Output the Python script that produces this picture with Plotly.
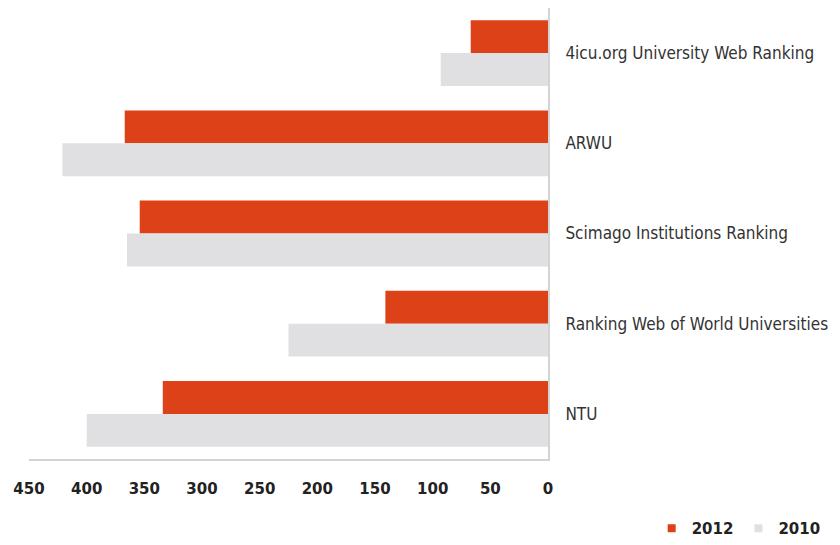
import plotly.graph_objects as go

categories = ["4icu.org University Web Ranking", "ARWU", "Scimago Institutions Ranking",
              "Ranking Web of World Universities", "NTU"]
values_2012 = [67, 367, 354, 141, 334]
values_2010 = [93, 421, 365, 225, 400]
x_ticks = [450, 400, 350, 300, 250, 200, 150, 100, 50, 0]

RED = "#dc4118"
GRAY = "#e0e0e2"

fig = go.Figure()
fig.add_trace(go.Bar(y=categories, x=values_2012, orientation="h", name="2012",
                     marker=dict(color=RED, line=dict(width=0)), showlegend=False))
fig.add_trace(go.Bar(y=categories, x=values_2010, orientation="h", name="2010",
                     marker=dict(color=GRAY, line=dict(width=0)), showlegend=False))
# legend entries with small square markers
fig.add_trace(go.Scatter(x=[None], y=[None], mode="markers", name="2012",
                         marker=dict(symbol="square", size=8, color=RED)))
fig.add_trace(go.Scatter(x=[None], y=[None], mode="markers", name="2010",
                         marker=dict(symbol="square", size=8, color=GRAY)))

fig.update_layout(
    width=832, height=537,
    margin=dict(l=20.5, r=291.5, t=0, b=84),
    paper_bgcolor="white", plot_bgcolor="white",
    barmode="group", bargap=0.27, bargroupgap=0,
    showlegend=True,
    legend=dict(orientation="h", x=1.535, xref="paper", xanchor="right",
                y=-0.155, yanchor="middle",
                font=dict(family="DejaVu Sans", size=15, color="#222222", weight="bold"),
                itemwidth=30, tracegroupgap=0),
    xaxis=dict(range=[450, 0], tickvals=x_ticks, showgrid=False, zeroline=False,
               showline=True, linecolor="#d4d4d4", linewidth=2,
               ticks="outside", ticklen=15, tickcolor="rgba(0,0,0,0)",
               tickfont=dict(family="DejaVu Sans", size=15, color="#222222", weight="bold")),
    yaxis=dict(side="right", autorange="reversed", showgrid=False, zeroline=False,
               showline=True, linecolor="#d4d4d4", linewidth=2,
               ticks="outside", ticklen=12, tickcolor="rgba(0,0,0,0)",
               tickfont=dict(family="DejaVu Sans Condensed", size=17, color="#333333")),
)

fig.write_html("out.html")
